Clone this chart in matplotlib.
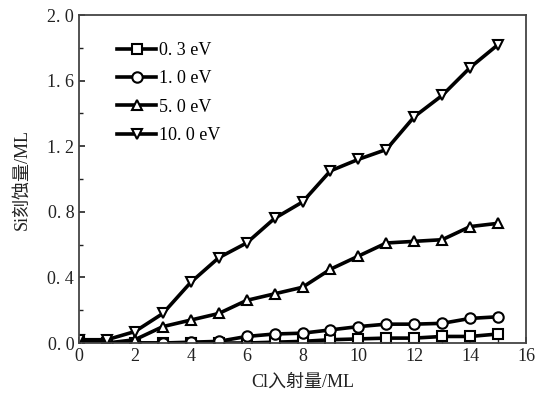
import matplotlib
matplotlib.use('Agg')
import matplotlib.pyplot as plt
from matplotlib.ticker import MultipleLocator, FuncFormatter

plt.rcParams['font.family'] = ['Liberation Serif', 'Noto Sans CJK SC']

# Cl dose [ML]
dose = [0, 1, 2, 3, 4, 5, 6, 7, 8, 9, 10, 11, 12, 13, 14, 15]

# Si etch yield [ML] for each incident energy
e03 = [0.02, 0.0, 0.0, 0.0, 0.0, 0.0, 0.0, 0.005, 0.01, 0.02, 0.025, 0.03, 0.03, 0.04, 0.04, 0.055]
e10 = [0.02, 0.0, 0.0, 0.0, 0.005, 0.01, 0.04, 0.055, 0.06, 0.08, 0.10, 0.115, 0.115, 0.12, 0.15, 0.16]
e50 = [0.02, 0.0, 0.02, 0.10, 0.14, 0.18, 0.26, 0.30, 0.34, 0.45, 0.53, 0.61, 0.62, 0.63, 0.71, 0.73]
e100 = [0.02, 0.02, 0.07, 0.18, 0.37, 0.52, 0.61, 0.76, 0.86, 1.05, 1.12, 1.18, 1.38, 1.51, 1.68, 1.82]

labels = ['0. 3 eV', '1. 0 eV', '5. 0 eV', '10. 0 eV']
markers = ['s', 'o', '^', 'v']

fig = plt.figure(figsize=(5.42, 3.96), dpi=100)
ax = fig.add_axes([0.1458, 0.1338, 0.8247, 0.8282])

for y, lab, m in zip([e03, e10, e50, e100], labels, markers):
    ax.plot(dose, y, color='black', lw=2.6, marker=m, ms=7.5,
            mfc='white', mec='black', mew=1.5, label=lab)

ax.set_xlim(0, 16)
ax.set_ylim(0, 2.0)
ax.xaxis.set_major_locator(MultipleLocator(2))
ax.xaxis.set_minor_locator(MultipleLocator(1))
ax.yaxis.set_major_locator(MultipleLocator(0.4))
ax.yaxis.set_minor_locator(MultipleLocator(0.2))
ax.yaxis.set_major_formatter(FuncFormatter(lambda v, p: '{0:.1f}'.format(v).replace('.', '. ')))
ax.tick_params(which='both', direction='in', top=False, right=False, labelsize=13, colors='#222222')
ax.tick_params(which='major', length=4, width=1.2)
ax.tick_params(which='minor', length=3, width=1.0)
for s in ax.spines.values():
    s.set_linewidth(1.3)
    s.set_color('#444444')

ax.set_xlabel('Cl入射量/ML', fontsize=13, color='#222222', labelpad=6)
ax.set_ylabel('Si刻蚀量/ML', fontsize=13, color='#222222', labelpad=12)

ax.legend(loc='upper left', bbox_to_anchor=(0.06, 0.95), frameon=False, fontsize=13,
          handlelength=2.2, handletextpad=0.15, labelspacing=0.62, borderaxespad=0.2)

fig.savefig('out.png', dpi=100)
